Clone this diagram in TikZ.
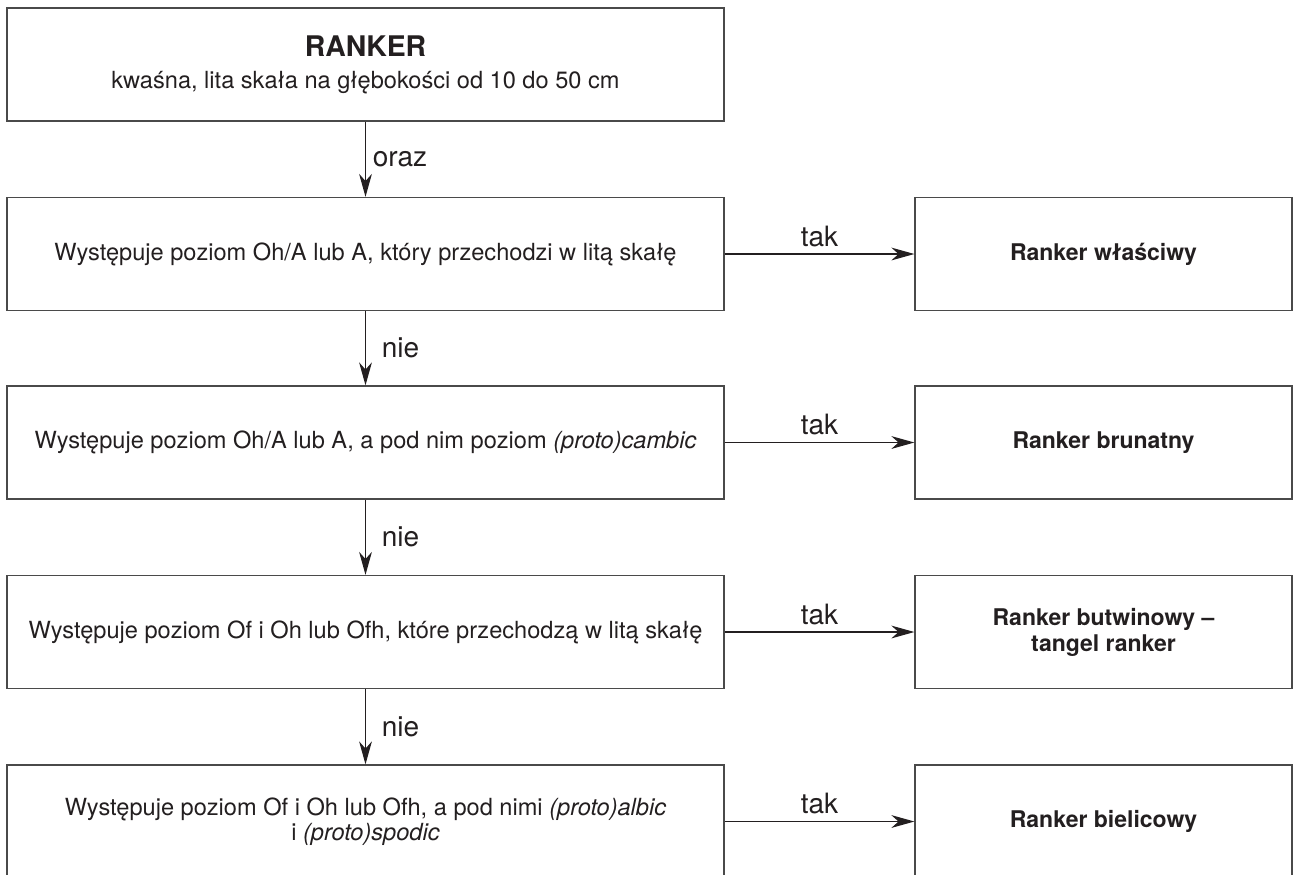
\documentclass[tikz,border=0pt]{standalone}
\usepackage{fontspec}
\setmainfont{TeX Gyre Heros}
\usepackage{xcolor}
\usepackage{tikz}
\usetikzlibrary{arrows.meta}

\definecolor{inkblack}{HTML}{231F20}
\definecolor{framegray}{HTML}{4A4A4A}

\begin{document}
\begin{tikzpicture}[x=0.5pt,y=-0.5pt]
        % Define the styles for boxes, arrows and arrow labels
        \tikzstyle{question}=[draw=framegray, line width=0.65pt, text=inkblack, minimum width=358.5pt, minimum height=56.5pt, inner sep=0pt, align=center, font=\fontsize{11.8}{12.6}\selectfont];
        \tikzstyle{answer}=[question, minimum width=188.5pt, font=\fontsize{11.5}{13}\selectfont\bfseries];
        \tikzstyle{flow}=[draw=inkblack, line width=0.6pt, -{Stealth[length=11.5pt,width=6.4pt,inset=3.6pt]}];
        \tikzstyle{choice}=[text=inkblack, font=\fontsize{14}{16}\selectfont];

        % Fix the margins of the picture
        \useasboundingbox (0,0) rectangle (1293,874);

        % Start box
        \node[question] (ranker) at (365.5,64.5) {{\fontsize{14.2}{16}\selectfont\bfseries RANKER}\\[3.5pt]
            kwaśna, lita skała na głębokości od 10 do 50 cm};

        % Questions on the left
        \node[question] (q1) at (365.5,254) {Występuje poziom Oh/A lub A, który przechodzi w litą skałę};
        \node[question] (q2) at (365.5,442.5) {Występuje poziom Oh/A lub A, a pod nim poziom \textit{(proto)cambic}};
        \node[question] (q3) at (365.5,632) {Występuje poziom Of i Oh lub Ofh, które przechodzą w litą skałę};
        \node[question] (q4) at (365.5,821.5) {Występuje poziom Of i Oh lub Ofh, a pod nimi \textit{(proto)albic}\\
            i \textit{(proto)spodic}};

        % Answers on the right
        \node[answer] (a1) at (1103.5,254) {Ranker właściwy};
        \node[answer] (a2) at (1103.5,442.5) {Ranker brunatny};
        \node[answer] (a3) at (1103.5,632) {Ranker butwinowy –\\ tangel ranker};
        \node[answer] (a4) at (1103.5,821.5) {Ranker bielicowy};

        % Arrows down
        \draw[flow] (ranker) -- node[choice, right] {oraz} (q1);
        \draw[flow] (q1) -- node[choice, right, xshift=4.5pt] {nie} (q2);
        \draw[flow] (q2) -- node[choice, right, xshift=4.5pt] {nie} (q3);
        \draw[flow] (q3) -- node[choice, right, xshift=4.5pt] {nie} (q4);

        % Arrows to the answers
        \draw[flow] (q1) -- node[choice, above] {tak} (a1);
        \draw[flow] (q2) -- node[choice, above] {tak} (a2);
        \draw[flow] (q3) -- node[choice, above] {tak} (a3);
        \draw[flow] (q4) -- node[choice, above] {tak} (a4);

    \end{tikzpicture}
\end{document}
